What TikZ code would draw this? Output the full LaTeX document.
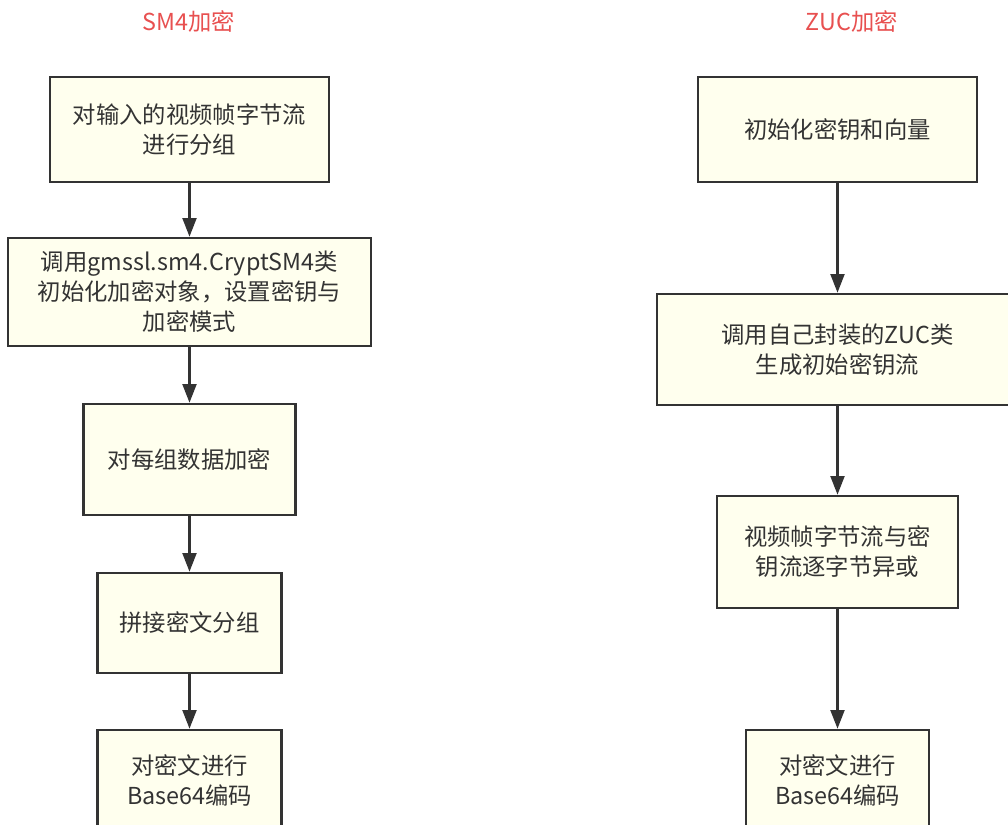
\documentclass[tikz,border=0pt]{standalone}
\usepackage{fontspec}
\setmainfont{Noto Sans CJK SC}
\usetikzlibrary{arrows.meta}
\definecolor{boxfill}{RGB}{255,255,238}
\definecolor{ink}{RGB}{51,51,51}
\definecolor{titlered}{RGB}{232,80,80}
\begin{document}
\begin{tikzpicture}[x=0.75pt,y=-0.75pt,
  stepbox/.style 2 args={draw=ink, line width=2pt, fill=boxfill, text=ink,
    minimum width=#1, minimum height=#2, inner sep=0pt, align=center,
    font=\fontsize{17.5}{22.5}\selectfont},
  heading/.style={text=titlered, inner sep=0pt, font=\fontsize{17.5}{22.5}\selectfont},
  flow/.style={draw=ink, line width=1.6pt, -{Triangle[width=10.5pt,length=14pt]}}]
\useasboundingbox (0,0) rectangle (1008,825);
\clip (0,0) rectangle (1008,825);
\fill[white] (0,0) rectangle (1008,825);

% column titles
\node[heading] (t1) at (189,22) {SM4加密};
\node[heading] (t2) at (852,22) {ZUC加密};

% SM4 column
\node[stepbox={209.25pt}{78.75pt}] (a1) at (189.5,129.5) {对输入的视频帧字节流\\进行分组};
\node[stepbox={272.25pt}{81pt}] (a2) at (189.5,292) {调用gmssl.sm4.CryptSM4类\\初始化加密对象，设置密钥与\\加密模式};
\node[stepbox={159pt}{83.25pt}] (a3) at (189.5,459.5) {对每组数据加密};
\node[stepbox={138pt}{75pt}] (a4) at (189.5,623) {拼接密文分组};
\node[stepbox={138pt}{75pt}] (a5) at (189.5,780) {对密文进行\\Base64编码};

% ZUC column
\node[stepbox={209.25pt}{78.75pt}] (b1) at (837.5,129.5) {初始化密钥和向量};
\node[stepbox={270.75pt}{83.25pt}] (b2) at (837.5,349.5) {调用自己封装的ZUC类\\生成初始密钥流};
\node[stepbox={180.75pt}{84pt}] (b3) at (837.5,552) {视频帧字节流与密\\钥流逐字节异或};
\node[stepbox={137.25pt}{75pt}] (b4) at (837.5,780) {对密文进行\\Base64编码};

% connectors
\draw[flow] (a1) -- (a2);
\draw[flow] (a2) -- (a3);
\draw[flow] (a3) -- (a4);
\draw[flow] (a4) -- (a5);
\draw[flow] (b1) -- (b2);
\draw[flow] (b2) -- (b3);
\draw[flow] (b3) -- (b4);
\end{tikzpicture}
\end{document}
